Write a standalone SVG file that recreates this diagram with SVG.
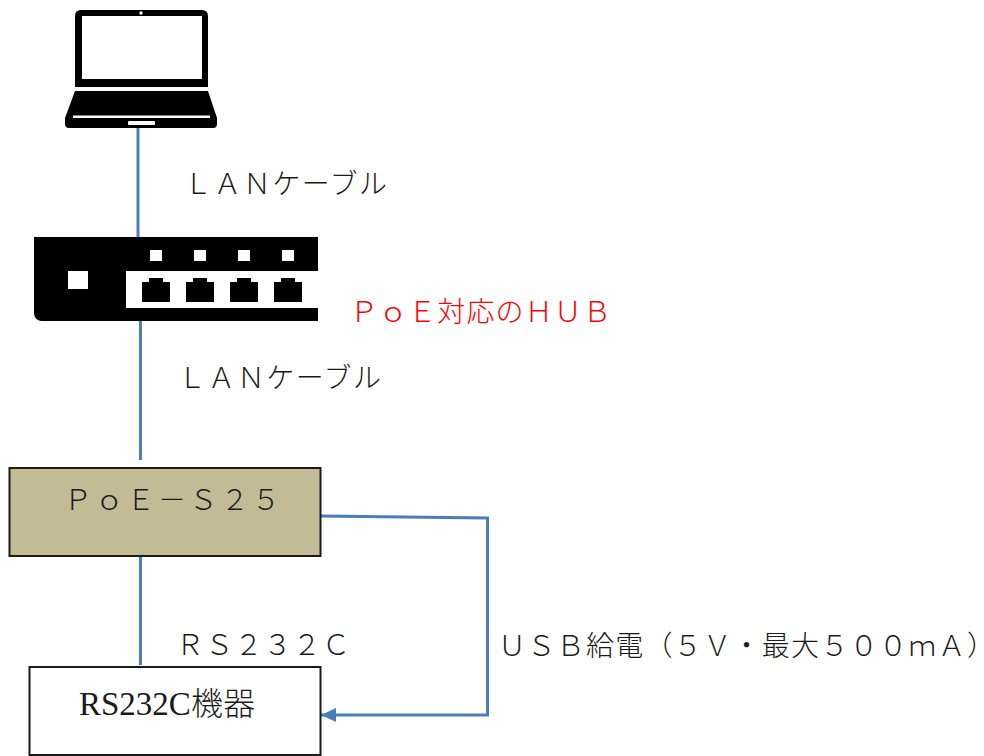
<svg xmlns="http://www.w3.org/2000/svg" width="984" height="756" viewBox="0 0 984 756">
<style>
text{font-family:"Noto Sans CJK JP","Liberation Serif",serif;font-size:28px;fill:#1a1a1a;font-weight:300}
.box{stroke:#1a1a1a;stroke-width:2}
.ln{stroke:#4a7ebb;stroke-width:3;fill:none}
.k{fill:#000}.w{fill:#fff}
</style>
<defs>
<filter id="soft" x="-5%" y="-5%" width="110%" height="110%"><feGaussianBlur stdDeviation="0.5"/></filter>
<marker id="arrow" markerUnits="userSpaceOnUse" markerWidth="16" markerHeight="16" refX="15" refY="8" orient="auto"><path d="M0 1L15 8L0 15Z" fill="#4a7ebb"/></marker>
<g id="port"><path class="k" d="M142 282h7v-4h14v4h7v20h-28z"/><rect class="w" x="150" y="250" width="12" height="11"/></g>
</defs>
<rect width="984" height="756" fill="#fff"/>
<g id="connectors">
<path class="ln" d="M138 128V237"/>
<path class="ln" d="M140.500 321V460"/>
<path class="ln" d="M140.500 556V665"/>
<path class="ln" d="M320 516L487.500 518V715H321" marker-end="url(#arrow)"/>
</g>
<g id="laptop" filter="url(#soft)">
<path class="k" d="M81 10H202Q208 10 208 16V87H75V16Q75 10 81 10Z"/>
<rect class="w" x="82" y="16" width="120" height="63"/>
<circle class="w" cx="141" cy="13" r="1.700"/>
<path class="k" d="M75 91H208L217 118V124Q217 128 213 128H69Q65 128 65 124V118Z"/>
<rect class="w" x="73" y="115.500" width="137" height="2.500"/>
<rect class="w" x="128" y="121" width="27" height="4" rx="1"/>
</g>
<g id="hub" filter="url(#soft)">
<path class="k" d="M34 237H318V321H41Q35 320 34 314Z"/>
<rect class="w" x="68" y="271" width="20" height="18"/>
<rect class="w" x="126" y="271" width="192" height="37"/>
<use href="#port"/><use href="#port" x="44"/><use href="#port" x="88"/><use href="#port" x="132"/>
</g>
<g id="poe">
<rect class="box" x="9.500" y="468" width="311" height="88" fill="#c2bb96"/>
<text x="64" y="510" textLength="216" lengthAdjust="spacing">ＰｏＥ－Ｓ２５</text>
</g>
<g id="device">
<rect class="box" x="29.500" y="667" width="291" height="88" fill="#fff"/>
<text x="79" y="715" style="font-family:'Liberation Serif','Noto Sans CJK JP',serif;font-weight:400;font-size:33px">RS232C<tspan style="font-family:'Noto Sans CJK JP',serif;font-weight:300;font-size:32px">機器</tspan></text>
</g>
<g id="labels">
<text x="184" y="194" textLength="203" lengthAdjust="spacing">ＬＡＮケーブル</text>
<text x="350" y="322" textLength="261" lengthAdjust="spacing" style="fill:#ff0000">ＰｏＥ対応のＨＵＢ</text>
<text x="178" y="388" textLength="203" lengthAdjust="spacing">ＬＡＮケーブル</text>
<text x="176" y="655" textLength="174" lengthAdjust="spacing">ＲＳ２３２Ｃ</text>
<text x="498" y="656" textLength="483" lengthAdjust="spacing">ＵＳＢ給電（５Ｖ・最大５００ｍＡ<tspan style="font-feature-settings:'halt'">）</tspan></text>
</g>
</svg>
